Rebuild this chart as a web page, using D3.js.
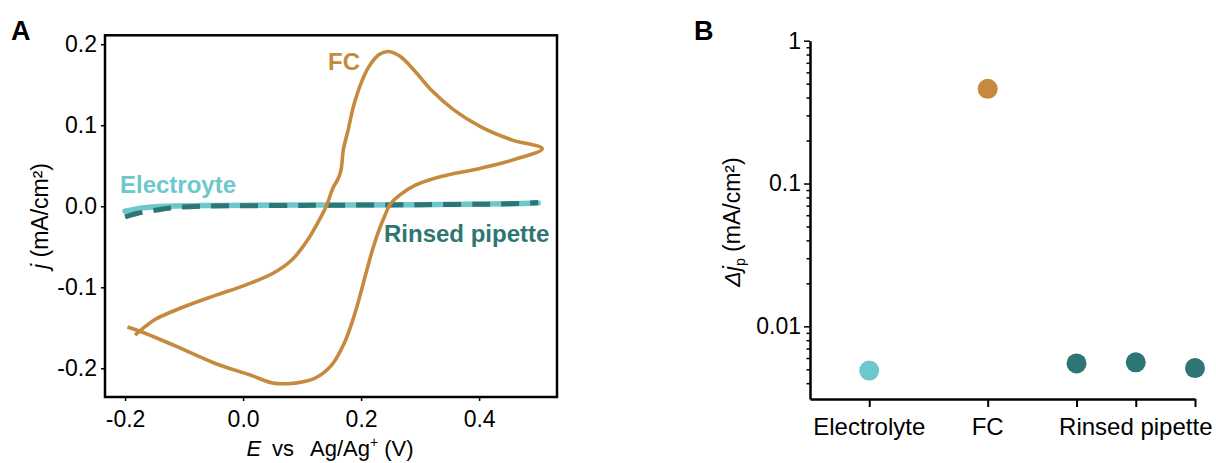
<!DOCTYPE html>
<meta charset="utf-8">
<script src="https://cdn.jsdelivr.net/npm/d3@7"></script>
<style>
  body { margin: 0; background: #fff; }
  text { font-family: "Liberation Sans", Arial, sans-serif; }
</style>
<div id="my_dataviz"></div>

<script>
  // ---- panel A : cyclic voltammograms (E in V, j in mA/cm2) ----
  var fcE = [-0.183, -0.165, -0.150, -0.100, -0.047, 0.005, 0.050, 0.083, 0.109, 0.129, 0.141,
    0.152, 0.161, 0.166, 0.170, 0.178, 0.187, 0.200, 0.213, 0.230, 0.246, 0.266, 0.292, 0.318,
    0.357, 0.403, 0.455, 0.507, 0.461, 0.403, 0.337, 0.292, 0.266, 0.249, 0.240, 0.230, 0.220,
    0.210, 0.199, 0.187, 0.172, 0.150, 0.125, 0.100, 0.075, 0.050, 0.011, -0.047, -0.113, -0.165, -0.196];
  var fcJ = [-0.159, -0.148, -0.140, -0.124, -0.110, -0.097, -0.083, -0.066, -0.042, -0.017, 0.000,
    0.022, 0.034, 0.045, 0.070, 0.094, 0.123, 0.152, 0.172, 0.187, 0.191, 0.185, 0.166, 0.144,
    0.119, 0.098, 0.082, 0.071, 0.058, 0.047, 0.037, 0.026, 0.014, 0.002, -0.012, -0.030, -0.052,
    -0.078, -0.108, -0.138, -0.168, -0.196, -0.211, -0.217, -0.219, -0.218, -0.208, -0.194, -0.173, -0.157, -0.149];

  var elecE = [-0.200, -0.170, -0.130, -0.050, 0.100, 0.300, 0.450, 0.500];
  var elecJ = [-0.006, -0.002, 0.000, 0.001, 0.0015, 0.002, 0.003, 0.004];

  var rinseE = [-0.200, -0.180, -0.150, -0.120, -0.070, 0.100, 0.300, 0.450, 0.500];
  var rinseJ = [-0.013, -0.009, -0.005, -0.002, 0.000, 0.001, 0.002, 0.003, 0.0045];

  var aTicksX = [-0.2, 0.0, 0.2, 0.4];
  var aTicksY = [-0.2, -0.1, 0.0, 0.1, 0.2];

  // ---- panel B : peak current difference ----
  var bGroups = ["Electrolyte", "FC", "Rinsed pipette", "Rinsed pipette", "Rinsed pipette"];
  var bSlots = [1, 3, 4.5, 5.5, 6.5];
  var bValues = [0.0049, 0.46, 0.0055, 0.0056, 0.0051];
  var bTickLabels = ["Electrolyte", "FC", "Rinsed pipette"];
  var bTickLabelSlots = [1, 3, 5.5];
  var bMajorY = [0.01, 0.1, 1];

  var cFC = "#c68a3e", cElec = "#6cc8cc", cRinse = "#2e7673";

  var svg = d3.select("#my_dataviz")
    .append("svg")
    .attr("width", 1216)
    .attr("height", 463);

  // ================= panel A =================
  var xA = d3.scaleLinear().domain([-0.234, 0.532]).range([105, 557]);
  var yA = d3.scaleLinear().domain([-0.2354, 0.211]).range([397, 35.3]);

  var gA = svg.append("g");

  gA.append("g")
    .attr("transform", "translate(0,397)")
    .call(d3.axisBottom(xA).tickValues(aTicksX).tickSize(4).tickSizeOuter(0)
      .tickFormat(function (d) { return d.toFixed(1); }))
    .call(function (g) { g.select(".domain").remove(); })
    .call(function (g) {
      g.selectAll("line").attr("stroke-width", 1.5);
      g.selectAll("text").attr("font-size", 23).attr("dy", "1.0em").attr("fill", "#000");
    });

  gA.append("g")
    .attr("transform", "translate(105,0)")
    .call(d3.axisLeft(yA).tickValues(aTicksY).tickSize(4).tickSizeOuter(0)
      .tickFormat(function (d) { return d.toFixed(1); }))
    .call(function (g) { g.select(".domain").remove(); })
    .call(function (g) {
      g.selectAll("line").attr("stroke-width", 1.5);
      g.selectAll("text").attr("font-size", 23).attr("x", -8).attr("fill", "#000");
    });

  var line = d3.line()
    .x(function (d) { return xA(d[0]); })
    .y(function (d) { return yA(d[1]); })
    .curve(d3.curveCatmullRom.alpha(0.5));

  gA.append("path")
    .datum(d3.zip(elecE, elecJ))
    .attr("d", line)
    .attr("fill", "none")
    .attr("stroke", cElec)
    .attr("stroke-width", 5.5)
    .attr("stroke-linecap", "round");

  gA.append("path")
    .datum(d3.zip(rinseE, rinseJ))
    .attr("d", line)
    .attr("fill", "none")
    .attr("stroke", cRinse)
    .attr("stroke-width", 5)
    .attr("stroke-dasharray", "18,11");

  gA.append("path")
    .datum(d3.zip(fcE, fcJ))
    .attr("d", line)
    .attr("fill", "none")
    .attr("stroke", cFC)
    .attr("stroke-width", 3.6)
    .attr("stroke-linejoin", "round");

  // frame
  gA.append("rect")
    .attr("x", 105).attr("y", 35.3)
    .attr("width", 452).attr("height", 361.7)
    .attr("fill", "none")
    .attr("stroke", "#000")
    .attr("stroke-width", 2.5);

  // curve labels
  gA.append("text").text("FC")
    .attr("x", 344).attr("y", 70).attr("text-anchor", "middle")
    .attr("font-size", 24).attr("font-weight", "bold").attr("fill", cFC);
  gA.append("text").text("Electroyte")
    .attr("x", 120).attr("y", 193)
    .attr("font-size", 24).attr("font-weight", "bold").attr("fill", cElec);
  gA.append("text").text("Rinsed pipette")
    .attr("x", 384).attr("y", 242)
    .attr("font-size", 24).attr("font-weight", "bold").attr("fill", cRinse);

  // axis titles
  var tA = gA.append("text")
    .attr("x", 330).attr("y", 456).attr("text-anchor", "middle")
    .attr("font-size", 22).attr("fill", "#000");
  tA.append("tspan").attr("font-style", "italic").text("E");
  tA.append("tspan").text("\u2002vs\u2002 Ag/Ag");
  tA.append("tspan").attr("font-size", 14).attr("dy", -9).text("+");
  tA.append("tspan").attr("dy", 9).text(" (V)");

  var tAy = gA.append("text")
    .attr("transform", "translate(48,216) rotate(-90)")
    .attr("text-anchor", "middle")
    .attr("font-size", 23).attr("fill", "#000");
  tAy.append("tspan").attr("font-style", "italic").text("j");
  tAy.append("tspan").text(" (mA/cm\u00b2)");

  svg.append("text").text("A")
    .attr("x", 11).attr("y", 40)
    .attr("font-size", 27).attr("font-weight", "bold");

  // ================= panel B =================
  var xB = d3.scaleLinear().domain([0, 6.5]).range([810, 1195]);
  var yB = d3.scaleLog().domain([0.0031, 1]).range([399, 40.7]);

  // all log ticks (minor + major) inside the domain
  var bAllY = yB.ticks().filter(function (v) { return v >= 0.0031 && v <= 1; });

  function isMajor(d) {
    return bMajorY.some(function (m) { return Math.abs(m - d) < 1e-9; });
  }

  var gB = svg.append("g");

  gB.append("g")
    .attr("transform", "translate(810,0)")
    .call(d3.axisLeft(yB).tickValues(bAllY).tickSizeOuter(0)
      .tickFormat(function (d) { return isMajor(d) ? String(d) : ""; }))
    .call(function (g) {
      g.select(".domain").attr("stroke-width", 2.5);
      g.selectAll(".tick line")
        .attr("stroke-width", 1.5)
        .attr("x2", function (d) { return isMajor(d) ? -6 : -3.5; });
      g.selectAll("text").attr("font-size", 23).attr("x", -9).attr("fill", "#000");
    });

  gB.append("g")
    .attr("transform", "translate(0,399)")
    .call(d3.axisBottom(xB).tickValues(bSlots).tickSize(8).tickSizeOuter(0).tickFormat(""))
    .call(function (g) {
      g.select(".domain").attr("stroke-width", 2.5);
      g.selectAll(".tick line").attr("stroke-width", 2);
    });

  gB.selectAll("xlabels")
    .data(bTickLabels)
    .enter()
    .append("text")
    .text(function (d) { return d; })
    .attr("x", function (d, i) { return xB(bTickLabelSlots[i]); })
    .attr("y", 435)
    .attr("text-anchor", "middle")
    .attr("font-size", 24)
    .attr("fill", "#000");

  gB.selectAll("dots")
    .data(bValues)
    .enter()
    .append("circle")
    .attr("cx", function (d, i) { return xB(bSlots[i]); })
    .attr("cy", function (d) { return yB(d); })
    .attr("r", 10)
    .attr("fill", function (d, i) {
      var g = bGroups[i];
      return g === "FC" ? cFC : (g === "Electrolyte" ? cElec : cRinse);
    });

  var tBy = gB.append("text")
    .attr("transform", "translate(740,222) rotate(-90)")
    .attr("text-anchor", "middle")
    .attr("font-size", 23).attr("fill", "#000");
  tBy.append("tspan").attr("font-style", "italic").text("\u0394j");
  tBy.append("tspan").attr("font-size", 14).attr("dy", 5).text("p");
  tBy.append("tspan").attr("dy", -5).text(" (mA/cm\u00b2)");

  svg.append("text").text("B")
    .attr("x", 694).attr("y", 40)
    .attr("font-size", 27).attr("font-weight", "bold");
</script>
